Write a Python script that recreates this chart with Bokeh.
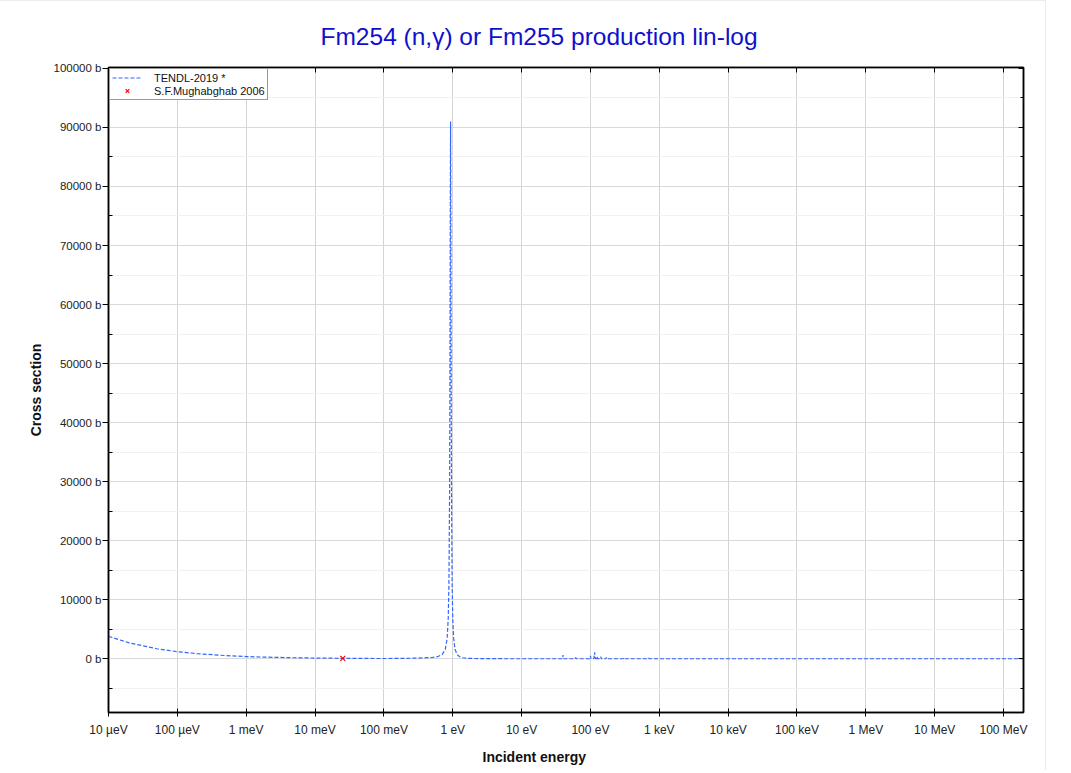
from bokeh.plotting import figure
from bokeh.models import (FixedTicker, LogAxis, LinearAxis, Range1d, Legend, LegendItem,
                          PrintfTickFormatter, Title, ColumnDataSource)
from bokeh.embed import file_html
from bokeh.resources import INLINE

# ---------------- data ----------------
tendl_energy_ev = [1e-5, 2e-5, 5e-5, 1e-4, 2e-4, 5e-4, 1e-3, 2e-3, 5e-3, 1e-2, 0.0253, 0.05,
                   0.1, 0.2, 0.3, 0.5, 0.6, 0.7, 0.78, 0.83, 0.86, 0.88, 0.9, 0.91, 0.92,
                   0.93, 0.94, 0.95, 0.96, 0.98, 1.0, 1.03, 1.08, 1.16, 1.26, 1.4, 1.7,
                   2.5, 4.0, 7.0, 12.0, 20.0, 39.5, 40.0, 40.5, 60.0, 61.0, 62.0, 98.0,
                   100.0, 102.0, 112.0, 115.0, 118.0, 123.0, 125.0, 127.0, 140.0, 142.0,
                   144.0, 168.0, 170.0, 172.0, 300.0, 303.0, 306.0, 690.0, 700.0, 710.0,
                   1e3, 1e4, 1e5, 1e6, 1e7, 1e8, 2e8]
tendl_xs_b = [3800, 2690, 1700, 1200, 850, 540, 380, 270, 170, 121, 77, 56,
              45, 60, 114, 214, 350, 700, 1600, 3500, 6900, 12550, 28000, 45500, 72800,
              91000, 72800, 45500, 28000, 12550, 6900, 3500, 1600, 700, 350, 177, 71,
              23, 10, 7, 5, 4, 4, 650, 4, 3, 200, 3, 3,
              500, 3, 3, 1100, 3, 3, 400, 3, 3, 350,
              3, 3, 250, 3, 2, 150, 2, 2, 120, 2,
              1.5, 0.5, 0.15, 0.05, 0.001, 0.0005, 0.0005]

exp_energy_ev = [0.0253]
exp_xs_b = [76]

x_tick_values = [1e-5, 1e-4, 1e-3, 1e-2, 1e-1, 1e0, 1e1, 1e2, 1e3, 1e4, 1e5, 1e6, 1e7, 1e8]
x_tick_labels = ["10 µeV", "100 µeV", "1 meV", "10 meV", "100 meV", "1 eV", "10 eV",
                 "100 eV", "1 keV", "10 keV", "100 keV", "1 MeV", "10 MeV", "100 MeV"]
y_tick_values = [0, 10000, 20000, 30000, 40000, 50000, 60000, 70000, 80000, 90000, 100000]
y_minor_values = [-5000, 5000, 15000, 25000, 35000, 45000, 55000, 65000, 75000, 85000, 95000]

FONT = "Liberation Sans"

p = figure(width=1046, height=770, x_axis_type="log",
           x_range=Range1d(1e-5, 1.95e8), y_range=Range1d(-9100, 100150),
           output_backend="svg", toolbar_location=None,
           min_border_left=108, min_border_right=23, min_border_top=66, min_border_bottom=57)
p.styles = {"border-top": "1px solid #ececec", "border-right": "1px solid #ececec"}

p.outline_line_color = "black"
p.outline_line_width = 1.5

# title
p.title = Title(text="Fm254 (n,γ) or Fm255 production lin-log", align="left", offset=212,
                text_font=FONT, text_font_size="24.5px", text_font_style="normal",
                text_color="#1010cc", standoff=36)

# x axis
xa = p.xaxis[0]
xa.ticker = FixedTicker(ticks=x_tick_values, minor_ticks=[])
xa.major_label_overrides = {v: l for v, l in zip(x_tick_values, x_tick_labels)}
xa.major_label_text_font = FONT
xa.major_label_text_font_size = "12px"
xa.major_label_text_color = "#222222"
xa.major_tick_in = 4
xa.major_tick_out = 4
xa.major_label_standoff = 6
xa.axis_line_color = "black"
xa.axis_line_width = 1.5

p.add_layout(Title(text="Incident energy", align="left", offset=374, text_font=FONT,
                   text_font_size="14px", text_font_style="bold", text_color="#111111",
                   standoff=14), "below")

# y axis
ya = p.yaxis[0]
ya.ticker = FixedTicker(ticks=y_tick_values, minor_ticks=y_minor_values)
ya.formatter = PrintfTickFormatter(format="%d b")
ya.major_label_text_font = FONT
ya.major_label_text_font_size = "11.5px"
ya.major_label_text_color = "#222222"
ya.major_tick_in = 0
ya.major_tick_out = 6
ya.minor_tick_in = 4
ya.minor_tick_out = 0
ya.major_label_standoff = 1
ya.axis_label = "Cross section"
ya.axis_label_text_font = FONT
ya.axis_label_text_font_size = "14px"
ya.axis_label_text_font_style = "bold"
ya.axis_label_text_color = "#111111"
ya.axis_label_standoff = 7
ya.axis_line_color = "black"
ya.axis_line_width = 1.5

# mirrored axes (ticks inside, labels invisible)
ra = LinearAxis(ticker=FixedTicker(ticks=y_tick_values, minor_ticks=y_minor_values),
                major_label_text_font_size="2px", major_label_text_alpha=0,
                major_label_standoff=0,
                major_tick_in=5, major_tick_out=0, minor_tick_in=3, minor_tick_out=0,
                axis_line_color="black", axis_line_width=1.5)
p.add_layout(ra, "right")
ta = LogAxis(ticker=FixedTicker(ticks=x_tick_values, minor_ticks=[]),
             major_label_text_font_size="2px", major_label_text_alpha=0,
             major_label_standoff=0,
             major_tick_in=5, major_tick_out=0,
             axis_line_color="black", axis_line_width=1.5)
p.add_layout(ta, "above")

# grids
p.xgrid.ticker = FixedTicker(ticks=x_tick_values, minor_ticks=[])
p.xgrid.grid_line_color = "#d4d4d4"
p.xgrid.grid_line_width = 1
p.ygrid.ticker = FixedTicker(ticks=y_tick_values, minor_ticks=y_minor_values)
p.ygrid.grid_line_color = "#d9d9d9"
p.ygrid.grid_line_width = 1
p.ygrid.minor_grid_line_color = "#f1f1f1"
p.ygrid.minor_grid_line_width = 1

# data
src = ColumnDataSource(dict(e=tendl_energy_ev, s=tendl_xs_b))
ln = p.line("e", "s", source=src, line_color="#3366ff", line_width=1.2, line_dash="4 2")
esrc = ColumnDataSource(dict(e=exp_energy_ev, s=exp_xs_b))
sc = p.scatter("e", "s", source=esrc, marker="x", size=7, line_color="red", line_width=1.2)

legend = Legend(items=[LegendItem(label="TENDL-2019 *", renderers=[ln]),
                       LegendItem(label="S.F.Mughabghab 2006", renderers=[sc])],
                location="top_left", margin=1, padding=2, spacing=0,
                glyph_width=30, glyph_height=13, label_height=13,
                label_text_font=FONT, label_text_font_size="11px", label_text_color="#111111",
                label_standoff=12,
                border_line_color="#333333", border_line_width=1,
                background_fill_color="white", background_fill_alpha=1.0)
p.add_layout(legend)

open("out.html", "w").write(file_html(p, INLINE))
